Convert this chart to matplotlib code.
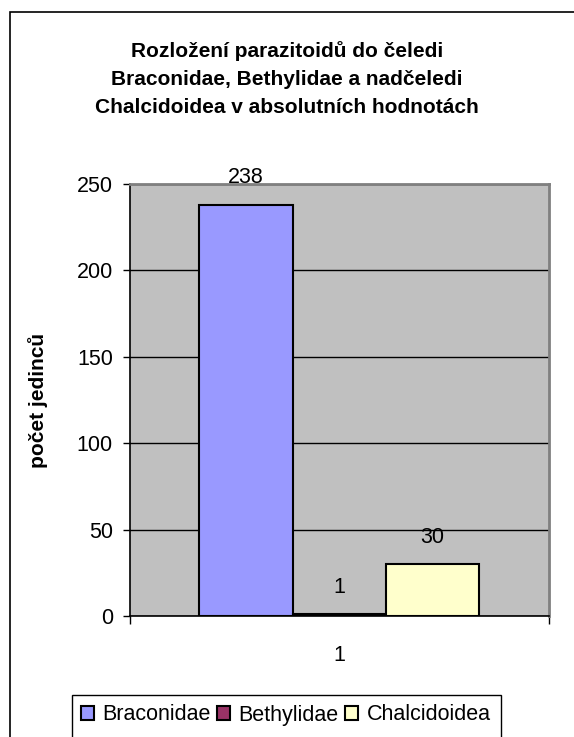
import matplotlib
matplotlib.use("Agg")
import matplotlib.pyplot as plt
from matplotlib.patches import Rectangle

plt.rcParams['font.family'] = ['Liberation Sans', 'DejaVu Sans']

# pocty jedincu podle celedi
families = ['Braconidae', 'Bethylidae', 'Chalcidoidea']
counts = [238, 1, 30]
colors = ['#9999FF', '#993366', '#FFFFCC']
category_label = '1'

W, H = 574, 737
fig = plt.figure(figsize=(W / 100, H / 100), dpi=100)

def fx(px):
    return px / W

def fy(py):
    return 1 - py / H

left, right, top, bottom = 129.5, 549, 184, 616
ax = fig.add_axes([fx(left), fy(bottom), fx(right - left), fy(top) - fy(bottom)])
ax.set_facecolor('#C0C0C0')

positions = [-1, 0, 1]
bars = ax.bar(positions, counts, width=1.0, color=colors, edgecolor='black',
              linewidth=1.5, zorder=3, label=families)
for x, v in zip(positions, counts):
    ax.annotate(str(v), (x, v), xytext=(0, 19.5), textcoords='offset points',
                ha='center', va='center', fontsize=15.5, zorder=4)

ax.set_xlim(-2.25, 2.25)
ax.set_ylim(0, 250)
ax.set_yticks([0, 50, 100, 150, 200, 250])
ax.yaxis.grid(True, color='black', linewidth=1.0, zorder=0)
ax.set_axisbelow(True)

# category ticks sit at the edges, the label in the middle
ax.set_xticks([-2.25, 2.25])
ax.set_xticklabels(['', ''])
ax.set_xticks([0], minor=True)
ax.set_xticklabels([category_label], minor=True, fontsize=15.5)
ax.tick_params(axis='x', which='major', length=6, width=1, direction='out')
ax.tick_params(axis='x', which='minor', length=0, pad=21)
ax.tick_params(axis='y', length=5, width=1, pad=7, labelsize=15.5)

for side in ['left', 'bottom']:
    ax.spines[side].set_color('black')
    ax.spines[side].set_linewidth(1.2)
for side in ['top', 'right']:
    ax.spines[side].set_color('#808080')
    ax.spines[side].set_linewidth(2)

ax.set_ylabel('počet jedinců', fontsize=15, fontweight='bold')
ax.yaxis.set_label_coords(fx(48 - left) / fx(right - left), 0.5)

fig.text(fx(287), fy(79),
         'Rozložení parazitoidů do čeledi\nBraconidae, Bethylidae a nadčeledi\nChalcidoidea v absolutních hodnotách',
         ha='center', va='center', fontsize=15, fontweight='bold', linespacing=1.6)

# legend with its own frame
leg = fig.legend(handles=bars.patches, labels=families, loc='center left',
                 bbox_to_anchor=(fx(70), fy(715)), ncol=3, frameon=False,
                 fontsize=15.5, handlelength=0.6, handleheight=0.6,
                 handletextpad=0.4, columnspacing=0.3, borderpad=0)
for h in leg.legend_handles:
    h.set_linewidth(1.5)
fig.patches.append(Rectangle((fx(72), fy(745)), fx(501 - 72), fy(695) - fy(745),
                             transform=fig.transFigure, fill=False,
                             edgecolor='black', linewidth=1))

# outer chart border
fig.patches.append(Rectangle((fx(9.5), fy(760)), fx(600), fy(12) - fy(760),
                             transform=fig.transFigure, fill=False,
                             edgecolor='black', linewidth=1.2))

fig.savefig('out.png', dpi=100)
